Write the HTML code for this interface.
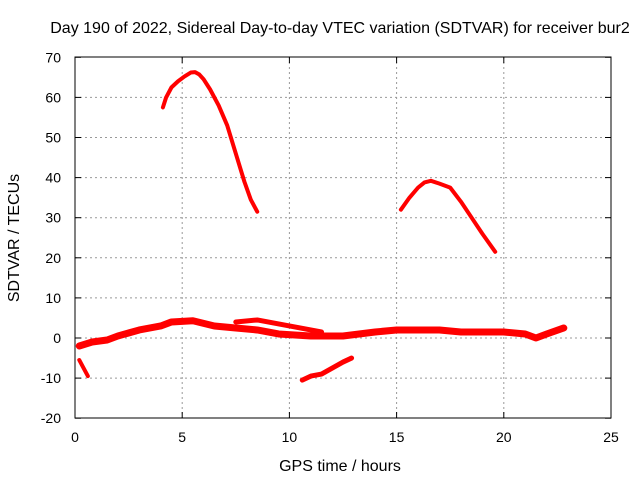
<!DOCTYPE html>
<html><head><meta charset="utf-8"><style>
body{margin:0;background:#fff}
svg{display:block;font-family:"Liberation Sans",sans-serif}
</style></head><body>
<svg id="chart" width="640" height="480" viewBox="0 0 640 480">
<text x="340" y="33" font-size="16" text-anchor="middle">Day 190 of 2022, Sidereal Day-to-day VTEC variation (SDTVAR) for receiver bur2</text>
<g id="grid"></g>
<g id="series"></g>
<rect x="75" y="57" width="536" height="361" fill="none" stroke="#000" stroke-width="1"/>
<g id="ticks"></g>
<text x="340" y="471" font-size="16" text-anchor="middle">GPS time / hours</text>
<text transform="translate(19,238) rotate(-90)" font-size="16" text-anchor="middle">SDTVAR / TECUs</text>
</svg>
<script>
const xTicks=[0,5,10,15,20,25];
const yTicks=[-20,-10,0,10,20,30,40,50,60,70];
const arcAx=[4.1,4.25,4.5,4.8,5.1,5.4,5.6,5.8,6.0,6.3,6.7,7.1,7.5,7.9,8.2,8.5];
const arcAy=[57.5,60,62.5,64,65.2,66.2,66.3,65.7,64.5,62,58,53,46,39,34.5,31.5];
const arcBx=[15.2,15.6,16,16.3,16.6,17,17.5,18,18.5,19,19.6];
const arcBy=[32,35,37.5,38.8,39.2,38.5,37.5,34,30,26,21.5];
const lowCx=[10.6,11,11.5,12,12.5,12.9];
const lowCy=[-10.5,-9.5,-9,-7.5,-6,-5];
const startDx=[0.2,0.4,0.6];
const startDy=[-5.5,-7.5,-9.5];
const bandx=[0.2,0.8,1.5,2,3,4,4.5,5.5,6.5,7.5,8.5,9.5,11,12.5,14,15,16,17,18,19,20,21,21.5,22,22.8];
const bandy=[-2,-1,-0.5,0.5,2,3,4,4.3,3,2.5,2,1,0.5,0.5,1.5,2,2,2,1.5,1.5,1.5,1,0,1,2.5];
const branchx=[7.5,8.5,9.5,10.5,11.5];
const branchy=[4,4.5,3.5,2.5,1.5];
const X=v=>75+v*21.44, Y=v=>338-v*4.01;
const NS="http://www.w3.org/2000/svg";
const g=document.getElementById('grid'),t=document.getElementById('ticks'),s=document.getElementById('series');
function mk(tag,a,p){const e=document.createElementNS(NS,tag);for(const k in a)e.setAttribute(k,a[k]);p.appendChild(e);return e;}
xTicks.forEach(v=>{
 if(v>0&&v<25){const l=mk('line',{x1:X(v),x2:X(v),y1:57,y2:418,stroke:'#999','stroke-dasharray':'2,3'},g);
 
 }
 const tx=mk('text',{x:X(v),y:442,'font-size':14,'text-anchor':'middle'},t);tx.textContent=v;
 
 
 mk('line',{x1:X(v),x2:X(v),y1:418,y2:412,stroke:'#000'},t);
 mk('line',{x1:X(v),x2:X(v),y1:57,y2:63,stroke:'#000'},t);
});
yTicks.forEach(v=>{
 if(v>-20&&v<70){const l=mk('line',{x1:75,x2:611,y1:Y(v),y2:Y(v),stroke:'#999','stroke-dasharray':'2,3'},g);
 
 }
 const tx=mk('text',{x:61,y:Y(v)+5,'font-size':14,'text-anchor':'end'},t);tx.textContent=v;
 
 
 mk('line',{x1:75,x2:81,y1:Y(v),y2:Y(v),stroke:'#000'},t);
 mk('line',{x1:611,x2:605,y1:Y(v),y2:Y(v),stroke:'#000'},t);
});
function line(xs,ys,w,name){
 const p=mk('polyline',{points:xs.map((x,i)=>X(x)+','+Y(ys[i])).join(' '),fill:'none',stroke:'#f00','stroke-width':w,'stroke-linejoin':'round','stroke-linecap':'round'},s);
 
 
}
line(bandx,bandy,7,'series-main-band');
line(branchx,branchy,5,'series-upper-branch');
line(arcAx,arcAy,4,'series-arc-a');
line(arcBx,arcBy,4,'series-arc-b');
line(lowCx,lowCy,5,'series-low-segment');
line(startDx,startDy,4,'series-start-segment');
</script>
</body></html>
